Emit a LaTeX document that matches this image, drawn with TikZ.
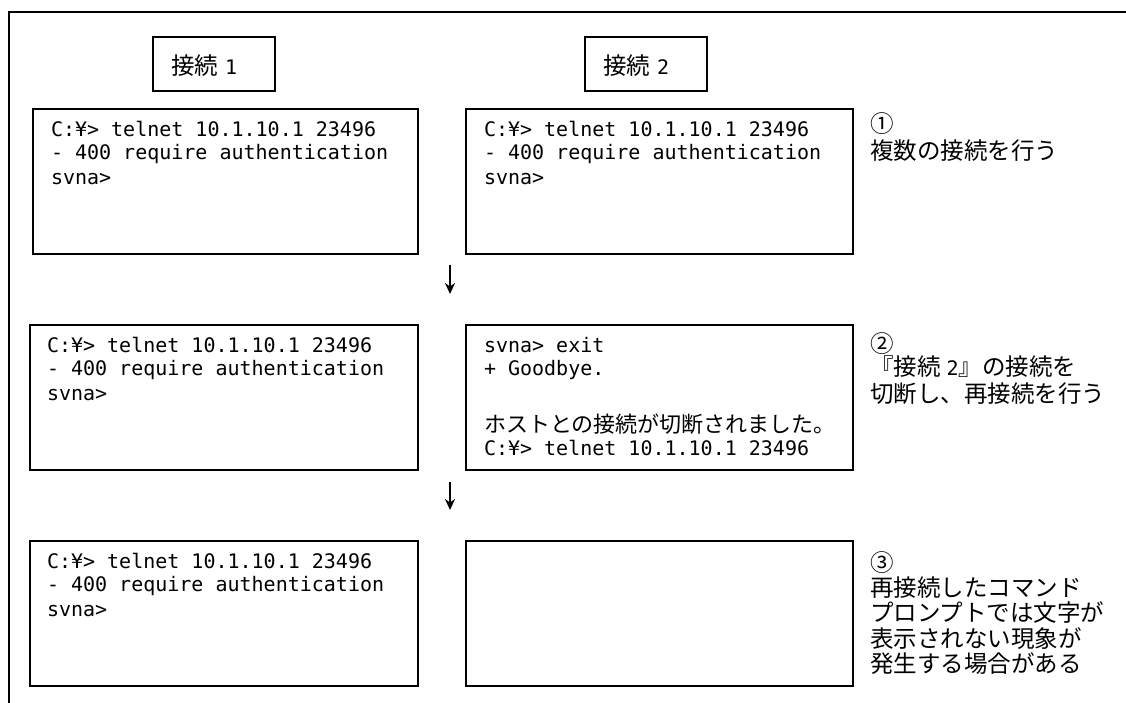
\documentclass[tikz,border=0pt]{standalone}
\usepackage{fontspec}
\setmainfont{DejaVu Sans Mono}
\newfontfamily\cjk{Noto Sans CJK JP}
\usetikzlibrary{arrows.meta}
\newcommand{\latinpart}[1]{{\fontsize{20}{25.5}\selectfont\rmfamily #1}}
\tikzset{
  x=1pt,y=-1pt,
  box/.style={draw=black,line width=1.6pt,anchor=north west,inner sep=0pt,outer sep=0pt},
  txt/.style={anchor=north west,inner sep=0pt,outer sep=0pt,align=left,text=black,
    font=\fontsize{20}{25.5}\selectfont},
  notetxt/.style={txt,font=\cjk\fontsize{23.5}{25.5}\selectfont},
  notetxtb/.style={txt,font=\cjk\fontsize{23.5}{27.5}\selectfont},
  flow/.style={draw=black,line width=2.2pt,-{Stealth[length=11pt,width=10pt]}},
  frameline/.style={draw=black,line width=1.6pt}
}
\begin{document}
\begin{tikzpicture}
\useasboundingbox[fill=white] (0,0) rectangle (1126,703);
\coordinate (fa) at (9,703);
\coordinate (fb) at (9,12);
\coordinate (fc) at (1126,12);
\draw[frameline] (fa) -- (fb) -- (fc);
% headers
\node[box,minimum width=122pt,minimum height=54pt] (h1) at (153,37) {};
\node[box,minimum width=122pt,minimum height=54pt] (h2) at (585,37) {};
\node[notetxt] (h1t) at (171,55) {\strut 接続\hspace{7pt}\latinpart{1}};
\node[notetxt] (h2t) at (603,55) {\strut 接続\hspace{7pt}\latinpart{2}};
% boxes
\node[box,minimum width=385pt,minimum height=145pt] (a1) at (33,109) {};
\node[box,minimum width=387pt,minimum height=145pt] (b1) at (466,109) {};
\node[box,minimum width=388pt,minimum height=145pt] (a2) at (30,325) {};
\node[box,minimum width=387pt,minimum height=145pt] (b2) at (466,325) {};
\node[box,minimum width=388pt,minimum height=145pt] (a3) at (30,541) {};
\node[box,minimum width=387pt,minimum height=145pt] (b3) at (466,541) {};
% terminal text
\node[txt] (a1t) at (51,119) {\strut C:¥> telnet 10.1.10.1 23496\\[-3pt]- 400 require authentication\\svna>};
\node[txt] (b1t) at (484,119) {\strut C:¥> telnet 10.1.10.1 23496\\[-3pt]- 400 require authentication\\svna>};
\node[txt] (a2t) at (47,335) {\strut C:¥> telnet 10.1.10.1 23496\\[-3pt]- 400 require authentication\\svna>};
\node[txt] (b2t) at (484,335) {\strut svna> exit\\[-3pt]+ Goodbye.\\\strut\\[4pt]{\cjk\fontsize{22}{25.5}\selectfont ホストとの接続が切断されました。}\\[-2pt]C:¥> telnet 10.1.10.1 23496};
\node[txt] (a3t) at (47,551) {\strut C:¥> telnet 10.1.10.1 23496\\[-3pt]- 400 require authentication\\svna>};
% notes
\node[notetxt] (n1) at (870,113) {\strut ①\\[-2pt]複数の接続を行う};
\node[notetxtb] (n2) at (870,333) {\strut ②\\[-7pt]『接続\hspace{6pt}\latinpart{2}』の接続を\\切断し、再接続を行う};
\node[notetxt] (n3) at (870,552) {\strut ③\\[-4pt]再接続したコマンド\\プロンプトでは文字が\\表示されない現象が\\発生する場合がある};
% arrows
\coordinate (p1s) at (450,265);
\coordinate (p1e) at (450,294);
\coordinate (p2s) at (450,482);
\coordinate (p2e) at (450,510);
\draw[flow] (p1s) -- (p1e);
\draw[flow] (p2s) -- (p2e);
\end{tikzpicture}
\end{document}
